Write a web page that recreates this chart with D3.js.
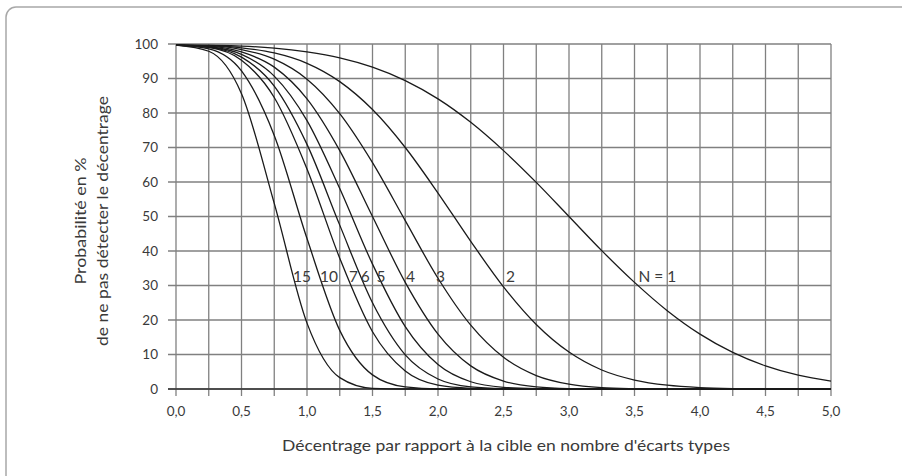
<!DOCTYPE html>
<html><head><meta charset="utf-8">
<script src="https://cdn.jsdelivr.net/npm/d3@7"></script>
<style>
html,body{margin:0;padding:0;background:#fff;}
svg{display:block;font-family:Lato,"Open Sans",sans-serif;}
</style></head>
<body>
<svg id="chart" width="902" height="476"></svg>
<script>
// Shift (in standard deviations)
const shifts = [0,0.25,0.5,0.75,1,1.25,1.5,1.75,2,2.25,2.5,2.75,3,3.25,3.5,3.75,4,4.25,4.5,4.75,5];
// Probability (%) of not detecting the shift, per sample size N
const n1  = [99.7,99.6,99.4,98.8,97.7,96.0,93.3,89.4,84.1,77.3,69.1,59.9,50.0,40.1,30.9,22.7,15.9,10.6,6.7,4.0,2.3];
const n2  = [99.7,99.6,98.9,97.4,94.4,89.1,81.0,70.0,56.8,42.8,29.6,18.7,10.7,5.5,2.6,1.1,0.4,0.1,0,0,0];
const n3  = [99.7,99.5,98.4,95.6,89.8,79.8,65.6,48.8,32.1,18.5,9.2,3.9,1.4,0.4,0.1,0,0,0,0,0,0];
const n4  = [99.7,99.4,97.7,93.3,84.1,69.1,50.0,30.9,15.9,6.7,2.3,0.6,0.1,0,0,0,0,0,0,0,0];
const n5  = [99.7,99.2,97.0,90.7,77.8,58.1,36.2,18.1,7.1,2.1,0.5,0.1,0,0,0,0,0,0,0,0,0];
const n6  = [99.7,99.1,96.2,87.8,70.9,47.5,25.0,9.9,2.9,0.6,0.1,0,0,0,0,0,0,0,0,0,0];
const n7  = [99.7,99.0,95.3,84.5,63.8,37.9,16.6,5.2,1.1,0.2,0,0,0,0,0,0,0,0,0,0,0];
const n10 = [99.7,98.6,92.2,73.5,43.6,17.0,4.1,0.6,0,0,0,0,0,0,0,0,0,0,0,0,0];
const n15 = [99.7,97.9,85.6,53.8,19.1,3.3,0.2,0,0,0,0,0,0,0,0,0,0,0,0,0,0];
const seriesList = [n1,n2,n3,n4,n5,n6,n7,n10,n15];
// Curve labels and where they sit (shift, %)
const labelTexts = ["N = 1","2","3","4","5","6","7","10","15"];
const labelX = [3.53,2.52,1.985,1.755,1.53,1.41,1.32,1.10,0.893];
const labelY = [31,31,31,31,31,31,31,31,31];
const xTicks = [0,0.5,1,1.5,2,2.5,3,3.5,4,4.5,5];
const xGrid = d3.range(0,5.001,0.25);
const yTicks = [0,10,20,30,40,50,60,70,80,90,100];

const svg = d3.select("#chart");
const L=176, R=831, T=44, B=389;
const x = d3.scaleLinear().domain([0,5]).range([L,R]);
const y = d3.scaleLinear().domain([0,100]).range([B,T]);
const txt = "#3a3a3a";

// frame
svg.append("rect").attr("x",6).attr("y",7).attr("width",920).attr("height",500)
  .attr("rx",10).attr("fill","none").attr("stroke","#a8a8a8").attr("stroke-width",1.5);

// grid
const g = svg.append("g");
g.selectAll("line.v").data(xGrid).join("line")
  .attr("x1",d=>x(d)).attr("x2",d=>x(d)).attr("y1",T).attr("y2",B+7)
  .attr("stroke","#808080").attr("stroke-width",1.3);
g.selectAll("line.h").data(yTicks).join("line")
  .attr("x1",L-8).attr("x2",R).attr("y1",d=>y(d)).attr("y2",d=>y(d))
  .attr("stroke","#808080").attr("stroke-width",1.3);
// baseline
g.append("line").attr("x1",L-8).attr("x2",R).attr("y1",B).attr("y2",B)
  .attr("stroke","#333").attr("stroke-width",1.5);

// axes labels
svg.append("g").selectAll("text").data(yTicks).join("text")
  .attr("x",158).attr("y",d=>y(d)).attr("dy","0.36em").attr("text-anchor","end")
  .attr("font-size",13.5).attr("fill",txt).text(d=>d);
svg.append("g").selectAll("text").data(xTicks).join("text")
  .attr("x",d=>x(d)).attr("y",416).attr("text-anchor","middle")
  .attr("font-size",13.5).attr("fill",txt).text(d=>d3.format(".1f")(d).replace(".",","));

// curves
const line = d3.line().x((d,i)=>x(shifts[i])).y(d=>y(d)).curve(d3.curveMonotoneX);
svg.append("g").selectAll("path").data(seriesList).join("path")
  .attr("d",line).attr("fill","none").attr("stroke","#1a1a1a").attr("stroke-width",1.3);

// curve labels
svg.append("g").selectAll("text").data(labelTexts).join("text")
  .attr("x",(d,i)=>x(labelX[i])).attr("y",(d,i)=>y(labelY[i]))
  .attr("font-size",15.5).attr("fill",txt).text(d=>d);

// titles
svg.append("text").attr("x",506).attr("y",451).attr("text-anchor","middle")
  .attr("font-size",16).attr("fill",txt)
  .attr("textLength",448).attr("lengthAdjust","spacingAndGlyphs")
  .text("Décentrage par rapport à la cible en nombre d'écarts types");
svg.append("text").attr("transform","translate(86,221) rotate(-90)")
  .attr("text-anchor","middle").attr("font-size",16).attr("fill",txt)
  .attr("textLength",127).attr("lengthAdjust","spacingAndGlyphs")
  .text("Probabilité en %");
svg.append("text").attr("transform","translate(108,221) rotate(-90)")
  .attr("text-anchor","middle").attr("font-size",16).attr("fill",txt)
  .attr("textLength",250).attr("lengthAdjust","spacingAndGlyphs")
  .text("de ne pas détecter le décentrage");
</script>
</body></html>
